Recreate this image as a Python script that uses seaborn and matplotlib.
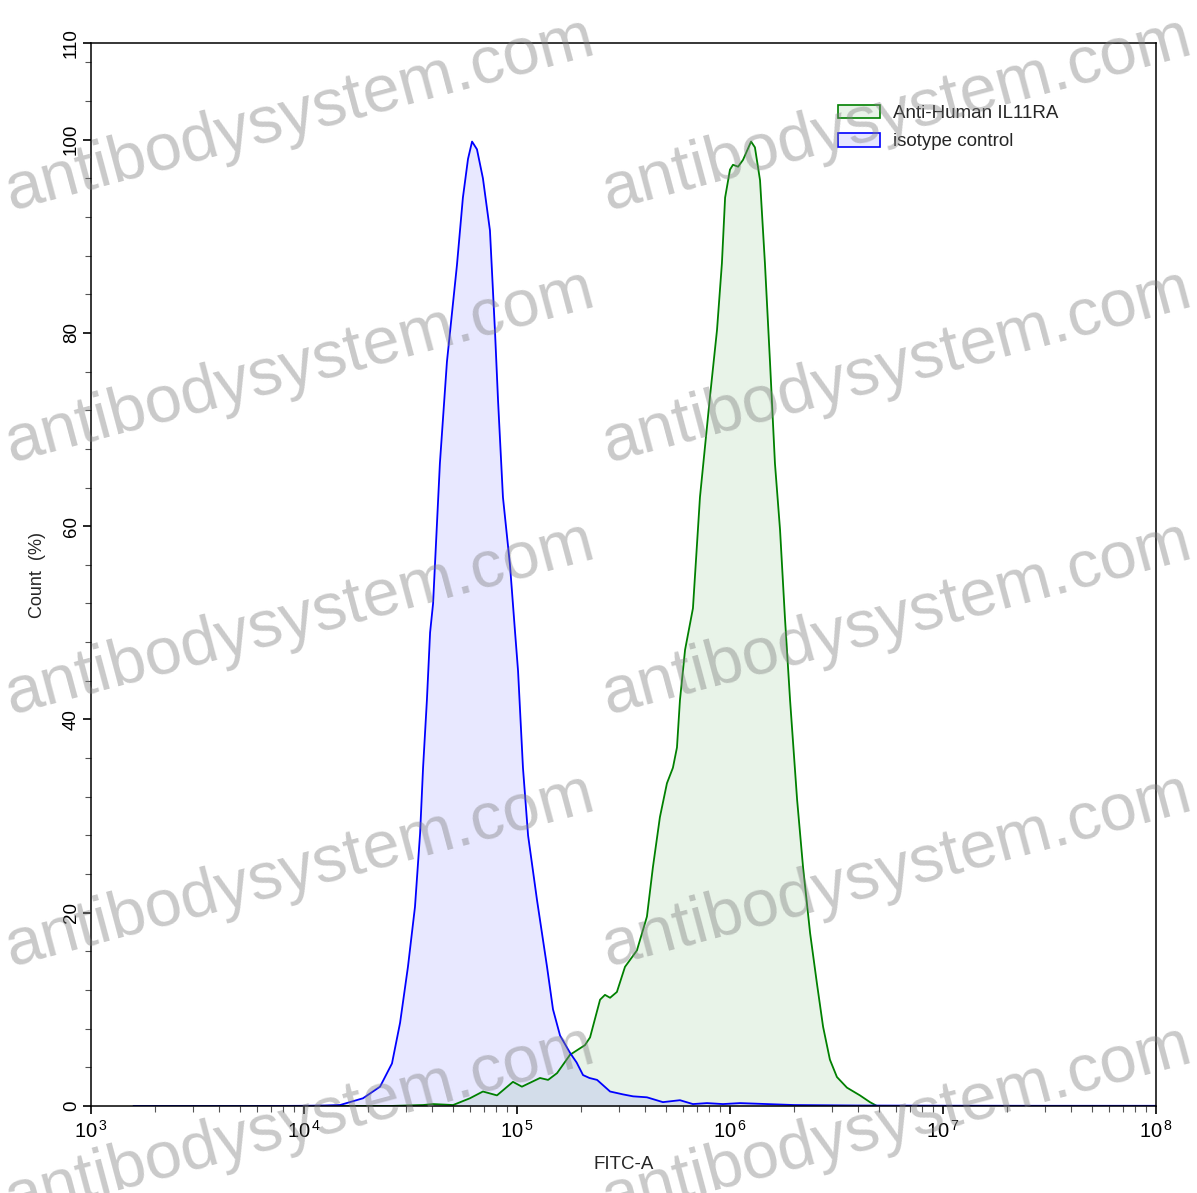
import numpy as np
import pandas as pd
import matplotlib
matplotlib.use("Agg")
import matplotlib.pyplot as plt
import seaborn as sns
from matplotlib.patches import Patch
from matplotlib.ticker import FixedLocator, LogLocator, NullFormatter, FuncFormatter

# isotype control (log10 FITC-A, count %)
iso_log = [3.2, 3.8, 4.0, 4.1, 4.169, 4.277, 4.357, 4.413, 4.451, 4.488, 4.521, 4.545,
           4.559, 4.577, 4.592, 4.606, 4.638, 4.671, 4.718, 4.746, 4.770, 4.789, 4.812,
           4.840, 4.873, 4.897, 4.911, 4.934, 4.967, 4.991, 5.005, 5.028, 5.052, 5.094,
           5.141, 5.169, 5.202, 5.249, 5.280, 5.310, 5.340, 5.376, 5.437, 5.498, 5.545,
           5.610, 5.685, 5.765, 5.826, 5.892, 5.967, 6.047, 6.3, 6.6, 7.0, 7.5, 8.0]
iso_pct = [0.0, 0.0, 0.02, 0.05, 0.1, 0.8, 2.0, 4.4, 8.6, 14.4, 20.6, 28.2,
           35.0, 42.0, 49.0, 52.0, 66.5, 77.0, 87.0, 94.0, 98.0, 99.8, 99.0,
           96.0, 90.6, 80.0, 73.0, 63.0, 56.0, 49.0, 45.0, 35.0, 28.0, 21.3,
           14.4, 10.0, 7.3, 5.5, 4.5, 3.2, 2.9, 2.7, 1.5, 1.2, 1.0,
           0.9, 0.4, 0.6, 0.2, 0.3, 0.2, 0.3, 0.1, 0.05, 0.03, 0.02, 0.02]

# Anti-Human IL11RA
il11_log = [3.2, 4.4, 4.559, 4.606, 4.700, 4.779, 4.840, 4.906, 4.981, 5.023, 5.108,
            5.146, 5.188, 5.249, 5.305, 5.319, 5.343, 5.390, 5.413, 5.437, 5.469, 5.507,
            5.563, 5.610, 5.638, 5.671, 5.704, 5.732, 5.751, 5.765, 5.789, 5.826, 5.859,
            5.906, 5.939, 5.962, 5.977, 6.000, 6.014, 6.038, 6.061, 6.099, 6.117, 6.141,
            6.164, 6.188, 6.211, 6.235, 6.258, 6.282, 6.315, 6.343, 6.376, 6.408, 6.437,
            6.469, 6.502, 6.549, 6.610, 6.657, 6.690, 7.0, 8.0]
il11_pct = [0.0, 0.0, 0.1, 0.2, 0.1, 0.8, 1.5, 1.1, 2.5, 2.0, 2.9,
            2.7, 3.4, 5.3, 6.1, 6.3, 7.1, 11.0, 11.5, 11.2, 11.8, 14.4,
            16.1, 19.6, 24.7, 29.9, 33.4, 35.0, 37.1, 42.0, 47.2, 51.5, 63.0,
            73.4, 80.3, 87.2, 94.0, 96.9, 97.4, 97.2, 97.9, 99.8, 99.2, 95.8,
            87.2, 76.9, 66.5, 59.6, 50.5, 42.0, 31.7, 24.7, 17.9, 12.7, 8.2,
            4.8, 3.0, 1.9, 1.1, 0.4, 0.0, 0.0, 0.0]

series = ["Anti-Human IL11RA", "isotype control"]
colors = {"Anti-Human IL11RA": "#008000", "isotype control": "#0000ff"}

df = pd.concat([
    pd.DataFrame({"FITC-A": 10 ** np.array(il11_log), "Count": il11_pct, "sample": series[0]}),
    pd.DataFrame({"FITC-A": 10 ** np.array(iso_log), "Count": iso_pct, "sample": series[1]}),
])

sns.set_style("ticks")
plt.rcParams["font.family"] = ["Liberation Sans", "DejaVu Sans"]
plt.rcParams["mathtext.fontset"] = "custom"
plt.rcParams["mathtext.rm"] = "Liberation Sans"
plt.rcParams["mathtext.it"] = "Liberation Sans"

fig = plt.figure(figsize=(11.97, 11.93), dpi=100)
ax = fig.add_axes([91 / 1197, 1 - 1106 / 1193, (1156 - 91) / 1197, (1106 - 43) / 1193])

for s in series:
    sub = df[df["sample"] == s]
    ax.fill_between(sub["FITC-A"], 0, sub["Count"], color=colors[s], alpha=0.09, lw=0)
    sns.lineplot(data=sub, x="FITC-A", y="Count", color=colors[s], lw=1.3, ax=ax)

ax.set_xscale("log")
ax.set_xlim(1e3, 1e8)
ax.set_ylim(0, 110)
ax.xaxis.set_major_locator(LogLocator(base=10, numticks=10))
ax.xaxis.set_minor_locator(LogLocator(base=10, subs=np.arange(2, 10), numticks=20))
ax.xaxis.set_minor_formatter(NullFormatter())
ax.xaxis.set_major_formatter(FuncFormatter(lambda v, p: r"$10^{\,%d}$" % round(np.log10(v))))
ax.yaxis.set_major_locator(FixedLocator([0, 20, 40, 60, 80, 100, 110]))
ax.yaxis.set_minor_locator(FixedLocator(np.arange(0, 110, 4)))
ax.tick_params(axis="both", which="major", direction="out", length=6, width=1.2,
               labelsize=13.5, colors="black")
ax.tick_params(axis="both", which="minor", direction="out", length=4, width=0.8,
               color="#555555")
ax.tick_params(axis="x", which="major", labelsize=14.5, pad=4)
ax.tick_params(axis="y", which="major", pad=2)
for lab in ax.get_yticklabels():
    lab.set_rotation(90)
    lab.set_va("center")
for sp in ax.spines.values():
    sp.set_linewidth(1.1)
    sp.set_color("black")

ax.set_xlabel("FITC-A", fontsize=13.5, labelpad=10)
ax.set_ylabel("Count  (%)", fontsize=13, labelpad=12)

handles = [Patch(facecolor=matplotlib.colors.to_rgba(colors[s], 0.09),
                 edgecolor=colors[s], lw=1.2, label=s) for s in series]
ax.legend(handles=handles, loc="upper left", bbox_to_anchor=(0.701, 0.942), frameon=False,
          borderaxespad=0, borderpad=0, fontsize=13.5, handlelength=2.24,
          handleheight=0.75, handletextpad=0.7, labelspacing=0.58)

# watermark
for cx in (300, 897):
    for cy in (115, 367, 619, 871, 1123):
        fig.text(cx / 1197, 1 - cy / 1193, "antibodysystem.com", fontsize=48,
                 color="#808080", alpha=0.42, rotation=15, ha="center", va="center",
                 zorder=10)

fig.savefig("out.png", dpi=100)
